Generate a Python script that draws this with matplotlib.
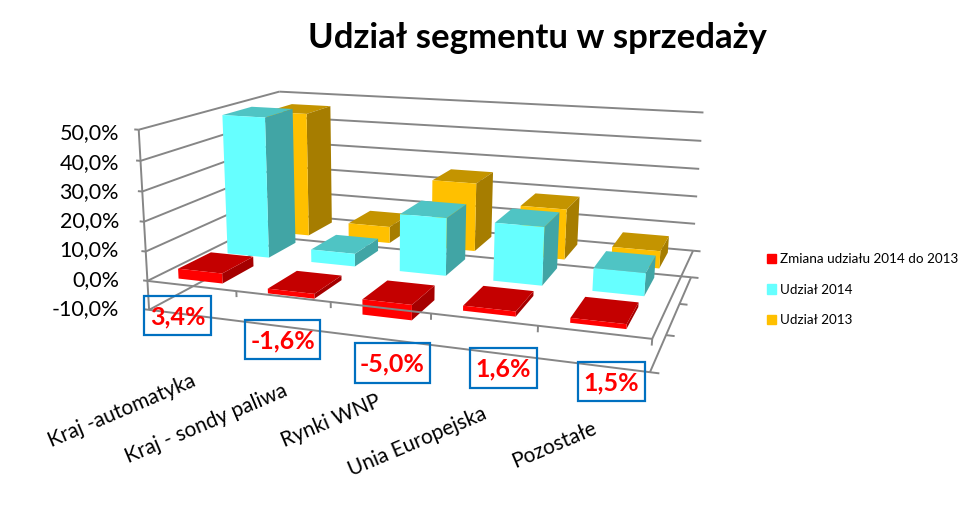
import numpy as np
import matplotlib
matplotlib.use("Agg")
import matplotlib.pyplot as plt
from matplotlib.patches import Patch, Rectangle
from mpl_toolkits.mplot3d import Axes3D  # noqa
from mpl_toolkits.mplot3d.art3d import Line3DCollection

W, H = 980, 515
FONT = ['Lato', 'DejaVu Sans']
plt.rcParams['font.family'] = FONT

categories = ['Kraj -automatyka', 'Kraj - sondy paliwa', 'Rynki WNP', 'Unia Europejska', 'Pozostałe']
share_change = [3.4, -1.6, -5.0, 1.6, 1.5]
share_2014 = [49.6, 4.5, 19.8, 19.6, 7.6]
share_2013 = [46.2, 6.1, 24.8, 18.0, 6.1]
series_names = ['Zmiana udziału 2014 do 2013', 'Udział 2014', 'Udział 2013']
change_labels = ['3,4%', '-1,6%', '-5,0%', '1,6%', '1,5%']
z_ticks = [-10, 0, 10, 20, 30, 40, 50]
z_tick_labels = ['-10,0%', '0,0%', '10,0%', '20,0%', '30,0%', '40,0%', '50,0%']

# (front, top, side) shades of each series
shades = [('#FF0000', '#C40000', '#A50000'),
          ('#66FFFF', '#4FC4C4', '#41A5A5'),
          ('#FFC000', '#C49400', '#A67D00')]

# camera calibration: points of the chart box and where they appear in the image
calib = [
    (0, 0, -10, 150, 308), (0, 0, 50, 138, 131), (0, 0, 0, 148, 280),
    (0, 0, 10, 145, 251), (0, 0, 20, 143, 221), (0, 0, 30, 142, 192), (0, 0, 40, 140, 162),
    (0, 0, 50, 138, 131), (0, 0, -10, 150, 308),
    (0, 3, 50, 280, 91), (0, 3, 50, 280, 91), (0, 3, 50, 280, 91), (0, 3, 50, 280, 91),
    (0, 3, 50, 280, 91), (0, 3, 50, 280, 91),
    (0, 3, 0, 281, 217), (0, 3, 0, 281, 217), (0, 3, 25, 280, 154),
    (5, 3, 50, 703, 113), (5, 3, 40, 701, 141), (5, 3, 30, 699, 169), (5, 3, 20, 697, 196),
    (5, 3, 10, 694, 223), (5, 3, 0, 693, 250), (5, 3, -10, 692, 277),
    (5, 0, 0, 652, 340), (5, 0, -10, 650, 373),
    (1, 0, 0, 237, 290), (2, 0, 0, 331, 302), (3, 0, 0, 431, 314), (4, 0, 0, 538, 327),
    (5, 1, -10, 667, 335), (5, 2, -10, 680, 303),
]


def fit_camera(pts):
    s = np.array([5.0, 3.0, 60.0, 1.0])
    rows = []
    for x, y, z, u, v in pts:
        X = np.array([x, y, z, 1.0]) / s
        u, v = u / 1000, v / 1000
        rows.append(np.r_[X, 0, 0, 0, 0, -u * X])
        rows.append(np.r_[0, 0, 0, 0, X, -v * X])
    P = np.linalg.svd(np.array(rows))[2][-1].reshape(3, 4)
    P = np.diag([1000, 1000, 1.0]) @ P @ np.diag(1 / s)
    if P[2, 3] < 0:
        P = -P
    return P


fig = plt.figure(figsize=(W / 100, H / 100), dpi=100, facecolor='white')
# square 3D axes, so the projection stays undistorted
ax = fig.add_axes([0, (H - W) / 2 / H, 1, W / H], projection='3d')
ax.set_axis_off()
ax.patch.set_visible(False)
ax.computed_zorder = False
ax.apply_aspect()
P = fit_camera(calib)
to_display = np.array([[1, 0, 0], [0, -1, H], [0, 0, 1.0]])
H2 = ax.transData.inverted().get_matrix() @ to_display @ P
M = np.vstack([H2[0], H2[1], [0.001, 0.01, 0.0001, 0.0] + 0.5 * H2[2], H2[2]])
ax.get_proj = lambda: M

GRID = '#868686'
LW = 1.4


def segs(pairs, z=1):
    ax.add_collection3d(Line3DCollection(pairs, colors=GRID, linewidths=LW, zorder=z))


n_cat, n_ser = len(categories), len(series_names)
wall = []
for zt in z_ticks:
    if zt > -10:
        wall.append([(5, n_ser, zt), (0, n_ser, zt)])
    wall.append([(0, n_ser, zt), (0, 0, zt)])
    wall.append([(0, 0, zt), (-0.05, 0, zt)])
wall.append([(0, 0, -10), (0, 0, 50)])
wall.append([(0, 0, -10), (5, 0, -10)])
wall.append([(5, 0, -10), (5, n_ser, -10)])
wall.append([(5, n_ser, -10), (0, n_ser, -10)])
wall.append([(5, 0, 0), (5, n_ser, 0)])
for j in range(n_ser + 1):
    wall.append([(5, j, -10), (5.08, j, -10)])
wall.append([(5, n_ser, 0), (5.08, n_ser, 0)])
segs(wall)

BW, BD = 0.5, 0.65
for j, vals in reversed(list(enumerate([share_change, share_2014, share_2013]))):
    front, top, side = shades[j]
    clear = (0, 0, 0, 0)
    for i, v in enumerate(vals):
        faces = [clear, top, front, clear, clear, side]
        ax.bar3d(i + 0.5 - BW / 2, j + 0.5 - BD / 2, min(v, 0), BW, BD, abs(v),
                 color=faces, shade=False, edgecolor='none',
                 zorder=10 + (n_ser - j) * 10 + i)

# front edge of the zero plane runs over the bars
front_edge = [[(0, 0, 0), (5, 0, 0)]]
for i in range(1, n_cat + 1):
    front_edge.append([(i, 0, 0), (i, 0, -2.0)])
segs(front_edge, z=100)


def px(x, y):
    return x / W, 1 - y / H


# value-axis labels
label_rows = [309, 280, 250, 221, 192, 163, 133]
for y, lab in zip(label_rows, z_tick_labels):
    fig.text(*px(119, y), lab, ha='right', va='center', fontsize=15.5, color='black')

# category labels
label_ends = [(195, 380), (286, 390), (380, 400), (486, 413), (596, 427)]
for lab, (x, y) in zip(categories, label_ends):
    fig.text(*px(x, y), lab, rotation=23, rotation_mode='anchor', ha='right', va='center',
             fontsize=15, color='black')

# change call-outs
boxes = [(144, 296, 211, 335), (245, 320, 320, 359), (355, 343, 430, 383),
         (470, 348, 537, 388), (578, 362, 645, 401)]
for lab, (x0, y0, x1, y1) in zip(change_labels, boxes):
    fig.add_artist(Rectangle(px(x0, y1), (x1 - x0) / W, (y1 - y0) / H, transform=fig.transFigure,
                             fill=False, edgecolor='#0070C0', lw=1.6, zorder=200))
    fig.text(*px((x0 + x1) / 2, (y0 + y1) / 2 + 1), lab, ha='center', va='center', color='#FF0000',
             fontsize=18, fontweight='bold', zorder=201)

fig.text(*px(537, 38), 'Udział segmentu w sprzedaży', ha='center', va='center',
         fontsize=25, fontweight='bold', color='black')

handles = [Patch(color=s[0], label=n) for s, n in zip(shades, series_names)]
fig.legend(handles=handles, loc='upper left', bbox_to_anchor=(767 / W, 1 - 253 / H), frameon=False,
           fontsize=9.7, handlelength=0.7, handleheight=0.7, handletextpad=0.3, labelspacing=1.38,
           borderpad=0, borderaxespad=0)

fig.savefig('out.png', dpi=100, facecolor='white')
